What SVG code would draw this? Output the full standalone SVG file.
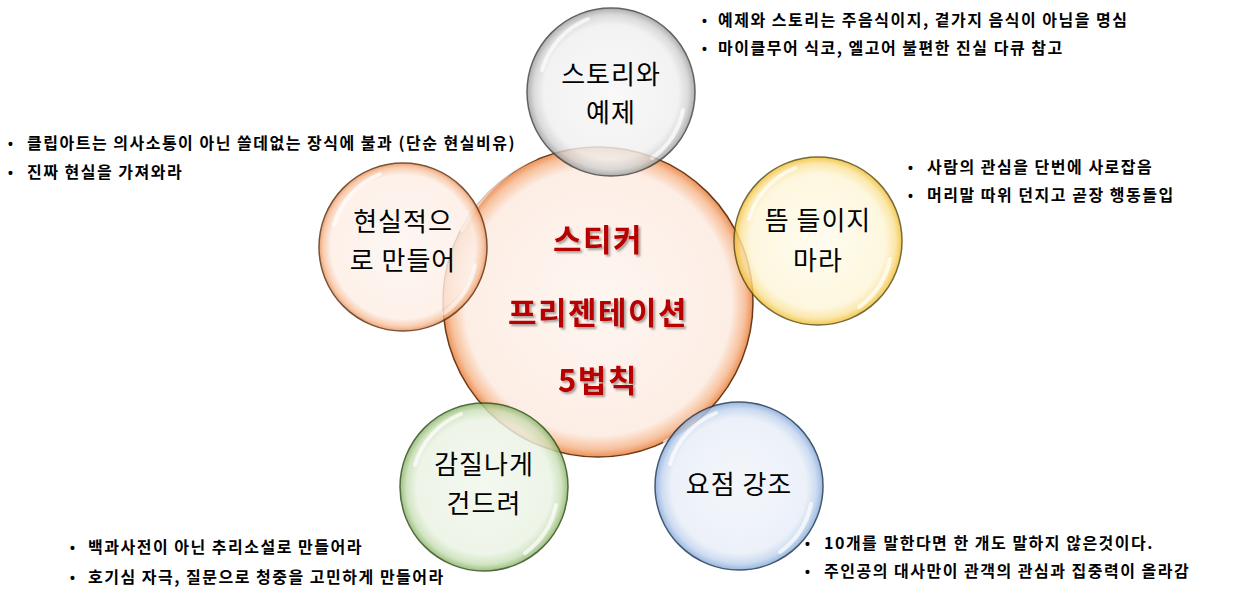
<svg xmlns="http://www.w3.org/2000/svg" width="1233" height="594" viewBox="0 0 1233 594">
<defs>
<radialGradient id="gOrange" cx="0.5" cy="0.5" r="0.5">
<stop offset="0" stop-color="#FEF6F1"/>
<stop offset="0.86" stop-color="#FDEEE5"/>
<stop offset="0.95" stop-color="#F7C29E"/>
<stop offset="1" stop-color="#EC9158"/>
</radialGradient>
<radialGradient id="gGray" cx="0.5" cy="0.5" r="0.5">
<stop offset="0" stop-color="#F8F8F8"/>
<stop offset="0.8" stop-color="#F0F0F0"/>
<stop offset="0.92" stop-color="#D2D2D2"/>
<stop offset="1" stop-color="#9C9C9C"/>
</radialGradient>
<radialGradient id="gYellow" cx="0.5" cy="0.5" r="0.5">
<stop offset="0" stop-color="#FFFCEE"/>
<stop offset="0.8" stop-color="#FEF6D8"/>
<stop offset="0.92" stop-color="#FBE39A"/>
<stop offset="1" stop-color="#F2BE2E"/>
</radialGradient>
<radialGradient id="gGreen" cx="0.5" cy="0.5" r="0.5">
<stop offset="0" stop-color="#F2F8ED"/>
<stop offset="0.8" stop-color="#EAF3E3"/>
<stop offset="0.92" stop-color="#C9DFB6"/>
<stop offset="1" stop-color="#88B466"/>
</radialGradient>
<radialGradient id="gBlue" cx="0.5" cy="0.5" r="0.5">
<stop offset="0" stop-color="#F1F5FB"/>
<stop offset="0.8" stop-color="#E9EFF8"/>
<stop offset="0.92" stop-color="#C2D4EE"/>
<stop offset="1" stop-color="#84A9DA"/>
</radialGradient>
<filter id="shadow" x="-10%" y="-20%" width="130%" height="150%">
<feDropShadow dx="2" dy="2" stdDeviation="1.2" flood-color="#000" flood-opacity="0.35"/>
</filter>
</defs>
<style>
.bubble{stroke-width:1.5;}
.outer{opacity:0.82;}
.label{font-family:"Malgun Gothic","Noto Sans CJK KR",sans-serif;font-size:26px;letter-spacing:1px;fill:#000;text-anchor:middle;}
.title{font-family:"Malgun Gothic","Noto Sans CJK KR",sans-serif;font-size:31px;letter-spacing:1.5px;font-weight:bold;fill:#B80000;text-anchor:middle;}
.note{font-family:"Malgun Gothic","Noto Sans CJK KR",sans-serif;font-size:16px;letter-spacing:1.5px;font-weight:bold;fill:#000;}
.dot{font-family:"Liberation Sans",sans-serif;font-size:14px;font-weight:bold;fill:#000;}
.gloss{fill:none;stroke:#FFFFFF;stroke-width:4;stroke-linecap:round;opacity:0.7;}
</style>
<rect width="1233" height="594" fill="#FFFFFF"/>

<g id="node-center">
<circle class="bubble" cx="598" cy="302" r="155" fill="url(#gOrange)" stroke="#6B3A18"/>
<path class="gloss" d="M 462 230 A 150 150 0 0 1 535 158"/>
<path class="gloss" d="M 733 385 A 150 150 0 0 1 665 442"/>
<g filter="url(#shadow)">
<text class="title" x="598" y="251">스티커</text>
<text class="title" x="598" y="324">프리젠테이션</text>
<text class="title" x="598" y="392">5법칙</text>
</g>
</g>

<g id="node-top" class="outer">
<circle class="bubble" cx="611" cy="92" r="84" fill="url(#gGray)" stroke="#404040"/>
<path class="gloss" d="M 542 70 A 78 78 0 0 1 588 19"/>
<path class="gloss" d="M 683 110 A 78 78 0 0 1 652 158"/>
</g>
<g id="node-left" class="outer">
<circle class="bubble" cx="403" cy="247" r="84" fill="url(#gOrange)" stroke="#5A2E10"/>
<path class="gloss" d="M 334 225 A 78 78 0 0 1 380 174"/>
<path class="gloss" d="M 475 265 A 78 78 0 0 1 444 313"/>
</g>
<g id="node-right" class="outer">
<circle class="bubble" cx="818" cy="241" r="84" fill="url(#gYellow)" stroke="#5A4A10"/>
<path class="gloss" d="M 749 219 A 78 78 0 0 1 795 168"/>
<path class="gloss" d="M 890 259 A 78 78 0 0 1 859 307"/>
</g>
<g id="node-bottom-left" class="outer">
<circle class="bubble" cx="484" cy="487" r="84" fill="url(#gGreen)" stroke="#2E4A18"/>
<path class="gloss" d="M 415 465 A 78 78 0 0 1 461 414"/>
<path class="gloss" d="M 556 505 A 78 78 0 0 1 525 553"/>
</g>
<g id="node-bottom-right" class="outer">
<circle class="bubble" cx="739" cy="486" r="84" fill="url(#gBlue)" stroke="#1E3450"/>
<path class="gloss" d="M 670 464 A 78 78 0 0 1 716 413"/>
<path class="gloss" d="M 811 504 A 78 78 0 0 1 780 552"/>
</g>

<g id="labels">
<text class="label" x="611" y="84">스토리와</text>
<text class="label" x="611" y="122">예제</text>
<text class="label" x="403" y="231">현실적으</text>
<text class="label" x="403" y="270">로 만들어</text>
<text class="label" x="818" y="230">뜸 들이지</text>
<text class="label" x="818" y="270">마라</text>
<text class="label" x="484" y="474">감질나게</text>
<text class="label" x="484" y="513">건드려</text>
<text class="label" x="739" y="494">요점 강조</text>
</g>

<g id="notes-top">
<text class="dot" x="702" y="26">•</text>
<text class="note" x="718" y="26">예제와 스토리는 주음식이지, 곁가지 음식이 아님을 명심</text>
<text class="dot" x="702" y="54">•</text>
<text class="note" x="718" y="54">마이클무어 식코, 엘고어 불편한 진실 다큐 참고</text>
</g>
<g id="notes-left">
<text class="dot" x="8" y="149">•</text>
<text class="note" x="27" y="149">클립아트는 의사소통이 아닌 쓸데없는 장식에 불과 (단순 현실비유)</text>
<text class="dot" x="8" y="178">•</text>
<text class="note" x="27" y="178">진짜 현실을 가져와라</text>
</g>
<g id="notes-right">
<text class="dot" x="908" y="173">•</text>
<text class="note" x="927" y="173">사람의 관심을 단번에 사로잡음</text>
<text class="dot" x="908" y="201">•</text>
<text class="note" x="927" y="201">머리말 따위 던지고 곧장 행동돌입</text>
</g>
<g id="notes-bottom-left">
<text class="dot" x="70" y="553">•</text>
<text class="note" x="88" y="553">백과사전이 아닌 추리소설로 만들어라</text>
<text class="dot" x="70" y="583">•</text>
<text class="note" x="88" y="583">호기심 자극, 질문으로 청중을 고민하게 만들어라</text>
</g>
<g id="notes-bottom-right">
<text class="dot" x="805" y="549">•</text>
<text class="note" x="824" y="549">10개를 말한다면 한 개도 말하지 않은것이다.</text>
<text class="dot" x="805" y="577">•</text>
<text class="note" x="824" y="577">주인공의 대사만이 관객의 관심과 집중력이 올라감</text>
</g>
<g id="connectors"></g>
</svg>
